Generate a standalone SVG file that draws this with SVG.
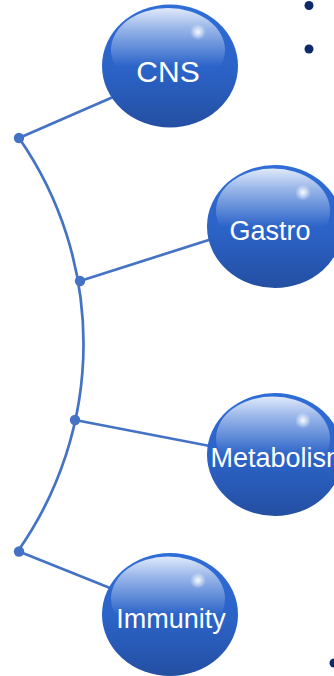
<svg xmlns="http://www.w3.org/2000/svg" width="334" height="676" viewBox="0 0 334 676">
<defs>
<linearGradient id="body" x1="0" y1="0" x2="0" y2="1">
<stop offset="0" stop-color="#2F6DD8"/>
<stop offset="0.55" stop-color="#2B62C6"/>
<stop offset="1" stop-color="#244FA2"/>
</linearGradient>
<linearGradient id="gloss" x1="0" y1="0" x2="0" y2="1">
<stop offset="0" stop-color="#FFFFFF" stop-opacity="0.85"/>
<stop offset="0.25" stop-color="#FFFFFF" stop-opacity="0.5"/>
<stop offset="0.7" stop-color="#FFFFFF" stop-opacity="0"/>
</linearGradient>
<radialGradient id="spot">
<stop offset="0" stop-color="#FFFFFF" stop-opacity="0.95"/>
<stop offset="1" stop-color="#FFFFFF" stop-opacity="0"/>
</radialGradient>
<g id="sphere">
<ellipse cx="0" cy="0" rx="68" ry="61.5" fill="url(#body)"/>
<ellipse cx="-2" cy="-16" rx="57" ry="42" fill="url(#gloss)"/>
<circle cx="28" cy="-34" r="8" fill="url(#spot)"/>
</g>
</defs>
<style>
.con{fill:none;stroke:#4472C4;stroke-width:2.7}
.dot{fill:#4472C4}
.lbl{font-family:"Liberation Sans",Arial,sans-serif;fill:#FFFFFF;font-size:27px}
.bul{fill:#0E2A6B}
</style>
<g id="connectors">
<path class="con" d="M19,138 A360.5,360.5 0 0,1 18,551"/>
<line class="con" x1="19" y1="138" x2="120" y2="94"/>
<line class="con" x1="80" y1="281" x2="215" y2="238"/>
<line class="con" x1="75" y1="420" x2="215" y2="447"/>
<line class="con" x1="19" y1="551.5" x2="115" y2="590"/>
<circle class="dot" cx="19" cy="138" r="5.2"/>
<circle class="dot" cx="80" cy="281" r="5.2"/>
<circle class="dot" cx="75" cy="420" r="5.2"/>
<circle class="dot" cx="19" cy="551.5" r="5.2"/>
</g>
<g id="cns">
<use href="#sphere" x="170" y="66"/>
<text class="lbl" x="168" y="82" text-anchor="middle" style="font-size:30px">CNS</text>
</g>
<g id="gastro">
<use href="#sphere" x="275" y="226.5"/>
<text class="lbl" x="270" y="240" text-anchor="middle">Gastro</text>
</g>
<g id="metabolism">
<use href="#sphere" x="275" y="454.5"/>
<text class="lbl" x="210.5" y="467">Metabolism</text>
</g>
<g id="immunity">
<use href="#sphere" x="170" y="614.5"/>
<text class="lbl" x="171" y="628" text-anchor="middle">Immunity</text>
</g>
<g id="bullets">
<circle class="bul" cx="309" cy="5.5" r="4.5"/>
<circle class="bul" cx="309" cy="49" r="4.5"/>
<circle class="bul" cx="334" cy="663" r="4.5"/>
</g>
</svg>
